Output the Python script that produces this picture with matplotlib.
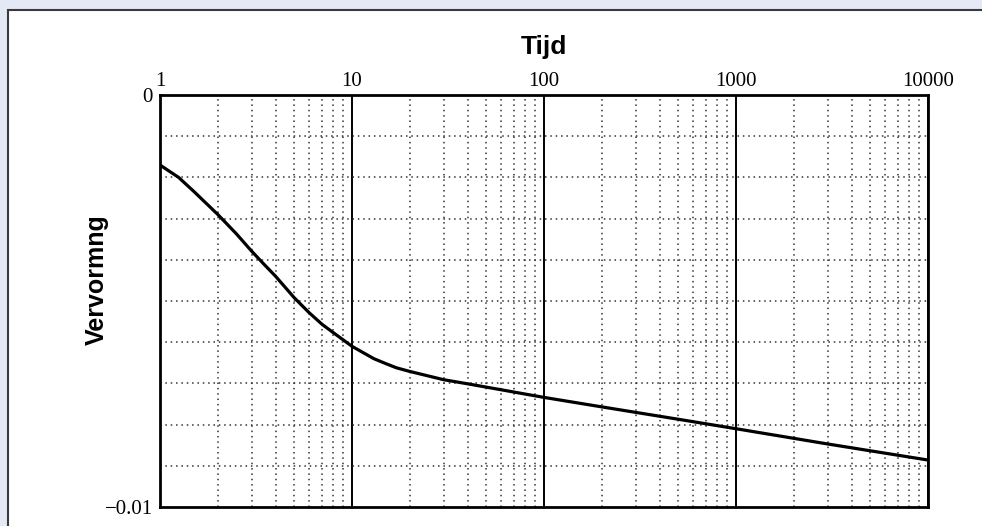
import matplotlib
matplotlib.use("Agg")
import matplotlib.pyplot as plt
from matplotlib.patches import Rectangle
from matplotlib.ticker import FixedLocator, NullFormatter
import numpy as np

# data (tijd vs vervorming)
tijd = [1, 1.25, 1.5, 2, 2.5, 3, 3.5, 4, 5, 6, 7, 8, 10, 13, 15, 17, 20, 25, 30, 40, 50,
        100, 200, 500, 1000, 3000, 10000]
vervorming = [-0.0017, -0.002, -0.00234, -0.0029, -0.00337, -0.00379, -0.00412, -0.0044,
              -0.00492, -0.00529, -0.00557, -0.00577, -0.0061, -0.0064, -0.00652, -0.00662,
              -0.00671, -0.00682, -0.00691, -0.00701, -0.00709, -0.00734, -0.00757,
              -0.00787, -0.0081, -0.00847, -0.00886]

x_ticks = [1, 10, 100, 1000, 10000]
x_labels = ["1", "10", "100", "1000", "10000"]
y_ticks = [-0.01, 0]
y_labels = ["\u22120.01", "0"]
y_grid = [-0.009, -0.008, -0.007, -0.006, -0.005, -0.004, -0.003, -0.002, -0.001]

W, H = 982, 526
fig = plt.figure(figsize=(W / 100, H / 100), dpi=100)
fig.patch.set_facecolor("#e5e9f5")

# white panel with dark border
panel = Rectangle((8 / W, -0.05), 1.1, 1 - 10 / H + 0.05, transform=fig.transFigure,
                  facecolor="white", edgecolor="#3a3a3a", lw=1.5, zorder=-10)
fig.patches.append(panel)

ax = fig.add_axes([160 / W, 1 - 507 / H, (928 - 160) / W, (507 - 95) / H])
ax.set_zorder(1)
ax.set_facecolor("white")
ax.set_xscale("log")
ax.set_xlim(1, 10000)
ax.set_ylim(-0.01, 0)

ax.plot(tijd, vervorming, color="black", lw=2.3, solid_capstyle="round",
        solid_joinstyle="round", zorder=5)

# x ticks on top
ax.xaxis.set_ticks_position("top")
ax.set_xticks(x_ticks)
ax.set_xticklabels(x_labels, fontfamily="Liberation Serif", fontsize=15)
minors = [m * 10 ** d for d in range(4) for m in range(2, 10)]
ax.xaxis.set_minor_locator(FixedLocator(minors))
ax.xaxis.set_minor_formatter(NullFormatter())
ax.tick_params(axis="x", which="both", length=0, pad=3)

ax.set_yticks(y_ticks)
ax.set_yticklabels(y_labels, fontfamily="Liberation Serif", fontsize=15)
ax.yaxis.set_minor_locator(FixedLocator(y_grid))
ax.tick_params(axis="y", which="both", length=0, pad=5)

# grid
ax.grid(True, which="major", axis="x", color="black", lw=1.4, ls="-")
ax.grid(True, which="minor", axis="x", color="#333333", lw=1.1, ls=(0, (1, 2.5)))
ax.grid(True, which="minor", axis="y", color="#333333", lw=1.1, ls=(0, (1, 2.5)))
ax.grid(False, which="major", axis="y")

for s in ax.spines.values():
    s.set_linewidth(2)
    s.set_color("black")

fig.text(544 / W, 1 - 47 / H, "Tijd", ha="center", va="center",
         fontfamily="Liberation Sans", fontweight="bold", fontsize=19)
fig.text(97 / W, 1 - 280 / H, "Vervormng", ha="center", va="center", rotation=90,
         fontfamily="Liberation Sans", fontweight="bold", fontsize=18)

fig.savefig("out.png", dpi=100, facecolor=fig.get_facecolor())
